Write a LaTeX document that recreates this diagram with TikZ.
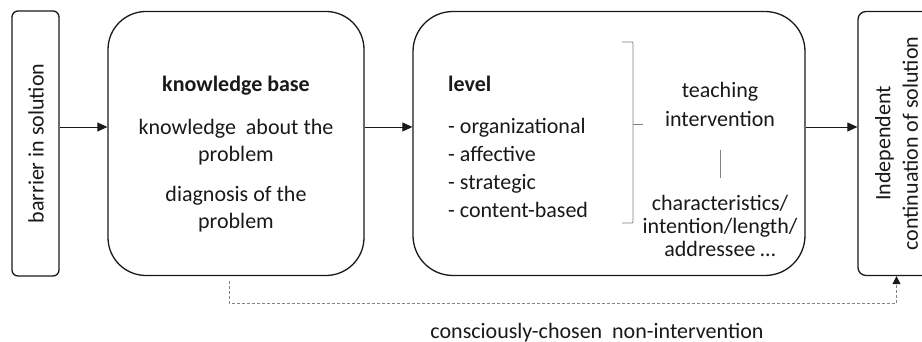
\documentclass[tikz,border=0pt]{standalone}
\usepackage{fontspec}
\setmainfont{Carlito}
\usetikzlibrary{arrows.meta}
\newcommand\stagefont{\fontsize{22}{27.5}\selectfont}
\begin{document}
\begin{tikzpicture}[x=1pt, y=-1pt, >={Triangle[length=10pt, width=9pt]},
    every node/.style={text=black!90, font=\stagefont, inner sep=0pt},
    stage/.style={draw=black!90, line width=1.3pt, rounded corners=#1},
    flow/.style={->, line width=0.8pt, black!90},
    bypass/.style={-{Triangle[length=8pt, width=8pt, black!90]}, line width=0.8pt, black!50, dash pattern=on 3pt off 2pt},
    bracket/.style={line width=0.8pt, black!50}]
  \useasboundingbox (0,0) rectangle (922,342);
  \clip (0,0) rectangle (922,342);
  \node [stage=6pt, minimum width=47pt, minimum height=265pt] (barrier) at (35.5,143.5) {};
  \node [stage=38pt, minimum width=256pt, minimum height=264pt] (base) at (236,143.5) {};
  \node [stage=40pt, minimum width=392pt, minimum height=264pt] (level) at (609,143.5) {};
  \node [stage=8pt, minimum width=77pt, minimum height=264pt] (cont) at (896.5,143.5) {};
  \node [rotate=90] (barrier-text) at (36,143.5) {barrier in solution};
  \node [rotate=90, align=center] (cont-text) at (896.5,143.5) {Independent\\continuation of solution};
  \node [anchor=base, font=\stagefont\bfseries] (base-title) at (236,92) {knowledge base};
  \node [anchor=base, align=center] (base-about) at (236,162) {knowledge\ \ about the\\problem};
  \node [anchor=base, align=center] (base-diag) at (236,229) {diagnosis of the\\problem};
  \node [anchor=base west, font=\stagefont\bfseries] (level-title) at (448,92) {level};
  \foreach \m [count=\y] in {organizational, affective, strategic, content-based}
    \node [anchor=base west] (level-\y) at (448,106.3+\y*27.7) {- \m};
  \node [anchor=base, align=center, font=\fontsize{22}{29}\selectfont] (teach) at (720,127) {teaching\\intervention};
  \node [anchor=base, align=center, font=\fontsize{22}{23.5}\selectfont] (traits) at (720,257) {characteristics/\\intention/length/\\addressee \dots};
  \draw [bracket, rounded corners=1pt] (622,42) -- (633,42) -- (633,223) -- (622,223);
  \draw [bracket] (633,124) -- (643,124);
  \draw [bracket] ([yshift=-23pt]teach.base) -- ([yshift=79pt]traits.base);
  \draw [flow] ([yshift=16.5pt]barrier.east) -- ([yshift=16.5pt]base.west);
  \draw [flow] ([yshift=16.5pt]base.east) -- ([yshift=16.5pt]level.west);
  \draw [flow] ([yshift=16.5pt]level.east) -- ([yshift=16.5pt]cont.west);
  \coordinate (skip) at (229,281);
  \draw [bypass] (skip) -- ++(0,22) -| (cont.south);
  \node [anchor=base] (skip-label) at (597,338) {consciously-chosen\ \ non-intervention};
\end{tikzpicture}
\end{document}
